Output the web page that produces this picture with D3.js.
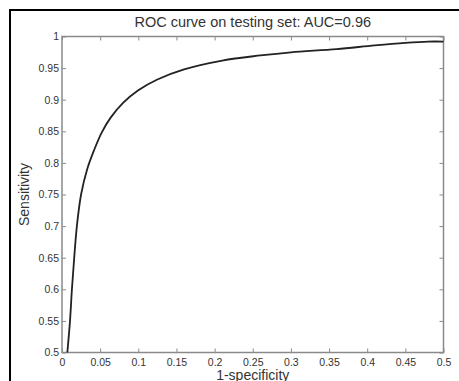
<!DOCTYPE html>
<html>
<head>
<meta charset="utf-8">
<script src="https://cdn.jsdelivr.net/npm/d3@7"></script>
<style>
  body { margin: 0; background: #fff; }
  text { font-family: "Liberation Sans", Arial, sans-serif; }
</style>
</head>
<body>
<svg id="roc" width="459" height="381"></svg>
<script>
// ROC points
const fpr = [0.007, 0.0105, 0.013, 0.016, 0.0195, 0.025, 0.033, 0.042, 0.052, 0.064, 0.08,
  0.1, 0.125, 0.16, 0.21, 0.26, 0.3, 0.36, 0.41, 0.45, 0.48, 0.5];
const tpr = [0.5, 0.55, 0.6, 0.65, 0.7, 0.75, 0.79, 0.82, 0.848, 0.872, 0.895,
  0.915, 0.932, 0.948, 0.962, 0.97, 0.975, 0.98, 0.986, 0.99, 0.992, 0.992];

const xTicks = [0, 0.05, 0.1, 0.15, 0.2, 0.25, 0.3, 0.35, 0.4, 0.45, 0.5];
const yTicks = [0.5, 0.55, 0.6, 0.65, 0.7, 0.75, 0.8, 0.85, 0.9, 0.95, 1];

const svg = d3.select("#roc");
const margin = { top: 36.5, right: 15.5, bottom: 28.5, left: 62 };
const width = +svg.attr("width");
const height = +svg.attr("height");
const innerWidth = width - margin.left - margin.right;
const innerHeight = height - margin.top - margin.bottom;

// outer black frame (clipped on right and bottom like the picture)
svg.append("path")
  .attr("d", "M10,381 L10,10 L459,10")
  .attr("fill", "none")
  .attr("stroke", "#000")
  .attr("stroke-width", 2);

const g = svg.append("g")
  .attr("transform", `translate(${margin.left}, ${margin.top})`);

const x = d3.scaleLinear().domain([0, 0.5]).range([0, innerWidth]);
const y = d3.scaleLinear().domain([0.5, 1]).range([innerHeight, 0]);

const fmt = d => String(+d.toFixed(2));
const axisColor = "#8a8a8a";

function styleAxis(sel) {
  sel.select(".domain").remove();
  sel.selectAll(".tick line").attr("stroke", axisColor).attr("stroke-width", 1);
  sel.selectAll(".tick text").attr("fill", "#333").attr("font-size", "10.5px");
}

g.append("g")
  .attr("transform", `translate(0, ${innerHeight})`)
  .call(d3.axisBottom(x).tickValues(xTicks).tickFormat(fmt).tickSizeInner(-4).tickPadding(6))
  .call(styleAxis);

g.append("g")
  .call(d3.axisTop(x).tickValues(xTicks).tickFormat("").tickSizeInner(-4))
  .call(styleAxis);

g.append("g")
  .call(d3.axisLeft(y).tickValues(yTicks).tickFormat(fmt).tickSizeInner(-4).tickPadding(3))
  .call(styleAxis);

g.append("g")
  .attr("transform", `translate(${innerWidth}, 0)`)
  .call(d3.axisRight(y).tickValues(yTicks).tickFormat("").tickSizeInner(-4))
  .call(styleAxis);

// axes box
g.append("rect")
  .attr("width", innerWidth)
  .attr("height", innerHeight)
  .attr("fill", "none")
  .attr("stroke", axisColor)
  .attr("stroke-width", 1.5);

// ROC curve
const line = d3.line()
  .x((d, i) => x(fpr[i]))
  .y(d => y(d))
  .curve(d3.curveCatmullRom.alpha(0.5));

g.append("path")
  .datum(tpr)
  .attr("d", line)
  .attr("fill", "none")
  .attr("stroke", "#222")
  .attr("stroke-width", 1.8);

// Title and labels
g.append("text")
  .attr("x", innerWidth / 2)
  .attr("y", -9.5)
  .attr("text-anchor", "middle")
  .attr("font-size", "14.5px")
  .attr("fill", "#333")
  .text("ROC curve on testing set: AUC=0.96");

g.append("text")
  .attr("x", innerWidth / 2)
  .attr("y", innerHeight + 27)
  .attr("text-anchor", "middle")
  .attr("font-size", "14px")
  .attr("fill", "#333")
  .text("1-specificity");

g.append("text")
  .attr("transform", `translate(${-33}, ${innerHeight / 2}) rotate(-90)`)
  .attr("text-anchor", "middle")
  .attr("font-size", "14px")
  .attr("fill", "#333")
  .text("Sensitivity");
</script>
</body>
</html>
